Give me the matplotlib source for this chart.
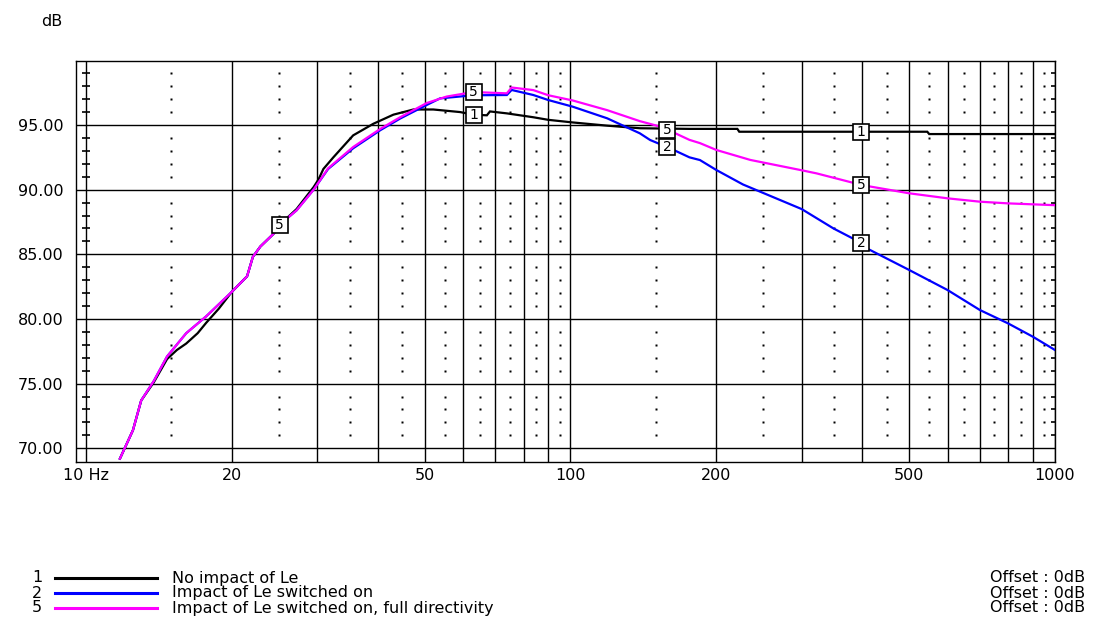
import numpy as np
import matplotlib
matplotlib.use("Agg")
import matplotlib.pyplot as plt
from matplotlib.lines import Line2D

plt.rcParams['font.family'] = ['DejaVu Sans']

# ---------------- data ----------------
freq_1 = [11.75, 12.5, 13.0, 13.8, 14.7, 15.4, 16.1, 17.0, 17.7, 18.8, 20.0, 21.5, 22.1, 22.9,
          24.4, 25.3, 27.2, 29.5, 30.2, 30.9, 32.4, 35.6, 39.2, 43.1, 47.4, 52.1, 59.2, 63.0,
          67.2, 68.2, 73.9, 83.8, 90.0, 101, 119, 139, 176, 221, 223, 545, 550, 1000]
db_1 = [69.2, 71.4, 73.7, 75.1, 76.9, 77.6, 78.1, 78.9, 79.7, 80.8, 82.1, 83.3, 84.8, 85.6,
        86.6, 87.4, 88.5, 90.2, 90.8, 91.6, 92.5, 94.2, 95.1, 95.8, 96.2, 96.2, 96.0, 95.8,
        95.75, 96.05, 95.9, 95.6, 95.4, 95.2, 94.95, 94.75, 94.7, 94.7, 94.48, 94.48, 94.3, 94.3]

freq_2 = [11.75, 12.5, 13.0, 13.8, 14.7, 16.1, 17.7, 20.0, 21.5, 22.1, 22.9, 24.4, 25.3, 27.2,
          29.5, 31.6, 35.6, 40.5, 44.5, 50.5, 53.8, 63.0, 73.9, 75.6, 83.8, 90.0, 101, 119,
          139, 146, 160.5, 176, 185, 200, 227, 300, 349, 400, 409, 500, 600, 700, 800, 900, 1000]
db_2 = [69.2, 71.4, 73.7, 75.2, 77.1, 78.9, 80.2, 82.1, 83.3, 84.8, 85.6, 86.6, 87.4, 88.4,
        90.0, 91.6, 93.2, 94.6, 95.5, 96.55, 97.06, 97.3, 97.32, 97.71, 97.32, 96.93, 96.42, 95.52,
        94.36, 93.84, 93.2, 92.5, 92.29, 91.52, 90.4, 88.5, 87.0, 85.85, 85.46, 83.79, 82.24,
        80.69, 79.66, 78.63, 77.6]

freq_5 = [11.75, 12.5, 13.0, 13.8, 14.7, 16.1, 17.7, 20.0, 21.5, 22.1, 22.9, 24.4, 25.3, 27.2,
          29.5, 31.6, 35.6, 40.5, 44.5, 50.5, 55.5, 63.0, 73.9, 75.6, 83.8, 90.0, 101, 119,
          139, 150.6, 160.5, 176, 185, 200, 235, 300, 322, 400, 500, 600, 700, 800, 1000]
db_5 = [69.2, 71.4, 73.7, 75.2, 77.1, 78.9, 80.2, 82.1, 83.3, 84.8, 85.6, 86.6, 87.4, 88.4,
        90.0, 91.65, 93.3, 94.7, 95.6, 96.7, 97.2, 97.55, 97.45, 97.9, 97.7, 97.3, 96.9, 96.15,
        95.3, 94.95, 94.55, 93.85, 93.6, 93.07, 92.3, 91.5, 91.26, 90.35, 89.72, 89.33, 89.07,
        88.94, 88.8]

curve_ids = ["1", "2", "5"]
curve_names = ["No impact of Le", "Impact of Le switched on",
               "Impact of Le switched on, full directivity"]
curve_colors = ["#000000", "#0000ff", "#ff00ff"]
offset_labels = ["Offset : 0dB", "Offset : 0dB", "Offset : 0dB"]
marker_freqs = [25.12, 63.1, 158.5, 398.1]

x_ticks = [10, 20, 50, 100, 200, 500, 1000]
x_tick_labels = ["10 Hz", "20", "50", "100", "200", "500", "1000"]
y_ticks = [70, 75, 80, 85, 90, 95]

# ---------------- figure ----------------
W, H = 1103, 619
FS = 11.5
fig = plt.figure(figsize=(W / 100, H / 100), dpi=100)
fig.patch.set_facecolor("white")
ax = fig.add_axes([76 / W, (H - 462) / H, (1055 - 76) / W, (462 - 61) / H])
ax.set_xscale("log")
ax.set_xlim(9.536, 1000)
ax.set_ylim(68.94, 99.95)

# major grid
vmaj = [d * m for d in (10, 100) for m in range(1, 10)] + [1000]
for v in vmaj:
    ax.axvline(v, color="black", lw=1.0, zorder=1)
for h in y_ticks:
    ax.axhline(h, color="black", lw=1.0, zorder=1)

# dotted half-step verticals (dots at each dB)
dot_f = [d * (m + 0.5) for d in (10, 100) for m in range(1, 10)]
dot_db = [v for v in range(70, 100) if v % 5 != 0]
for f in dot_f:
    ax.plot([f] * len(dot_db), dot_db, ls="none", marker="s", ms=1.6,
            mfc="black", mec="none", zorder=1)
# tick crosses on the 10 Hz line and at the right edge
ax.plot([10] * len(dot_db), dot_db, ls="none", marker="_", ms=5.5, mew=1.2,
        color="black", zorder=1)
ax.plot([1000] * len(dot_db), dot_db, ls="none", marker="_", ms=5.5, mew=1.2,
        color="black", zorder=1)

# curves
freqs = [freq_1, freq_2, freq_5]
dbs = [db_1, db_2, db_5]
for i, (f, d, c) in enumerate(zip(freqs, dbs, curve_colors)):
    ax.plot(f, d, color=c, lw=1.6, zorder=3 + i, solid_joinstyle="miter")

# curve-number boxes (a box fully covered by a later curve's box is not drawn)
marker_vals = [np.interp(np.log10(marker_freqs), np.log10(f), d) for f, d in zip(freqs, dbs)]
for i, cid in enumerate(curve_ids):
    for j, mf in enumerate(marker_freqs):
        y = marker_vals[i][j]
        covered = any(abs(marker_vals[k][j] - y) < 1.0 for k in range(i + 1, len(curve_ids)))
        if covered:
            continue
        ax.plot([mf], [y], ls="none", marker="s", ms=11.5, mfc="white",
                mec="black", mew=1.2, zorder=10 + 2 * i)
        ax.text(mf, y, cid, ha="center", va="center", fontsize=10,
                color="black", zorder=11 + 2 * i)

# ticks
ax.set_xticks(x_ticks)
ax.set_xticklabels(x_tick_labels)
ax.xaxis.set_minor_locator(matplotlib.ticker.NullLocator())
ax.set_yticks(y_ticks)
ax.set_yticklabels([f"{v:.2f}" for v in y_ticks])
ax.tick_params(axis="both", length=0, labelsize=FS, colors="black")
ax.tick_params(axis="x", pad=4)
ax.tick_params(axis="y", pad=9)
for s in ax.spines.values():
    s.set_color("black")
    s.set_linewidth(1.0)

fig.text(62 / W, 1 - 21 / H, "dB", ha="right", va="center", fontsize=FS)

# legend
rows_y = [578, 593, 608]
for cid, name, col, off, ry in zip(curve_ids, curve_names, curve_colors, offset_labels, rows_y):
    yy = 1 - ry / H
    fig.text(42 / W, yy, cid, ha="right", va="center", fontsize=FS)
    fig.add_artist(Line2D([55 / W, 157 / W], [yy, yy], color=col, lw=2.2,
                          transform=fig.transFigure))
    fig.text(172 / W, yy, name, ha="left", va="center", fontsize=FS)
    fig.text(1085 / W, yy, off, ha="right", va="center", fontsize=FS)

fig.savefig("out.png", dpi=100, facecolor="white")
